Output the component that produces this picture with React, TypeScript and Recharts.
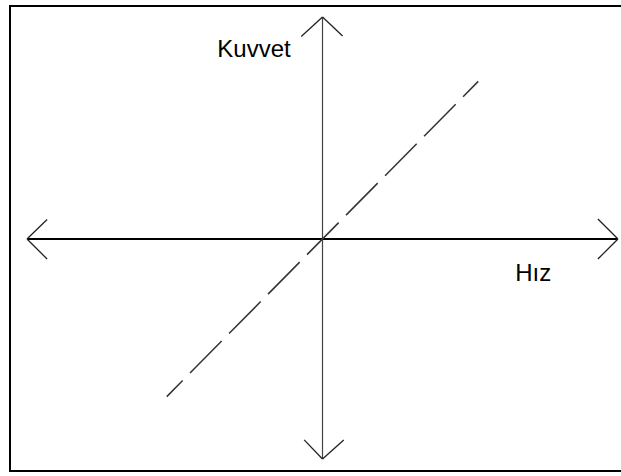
import React from 'react';
import { ComposedChart, XAxis, YAxis, Line, ReferenceLine, ReferenceDot } from 'recharts';

// Axis extents (data units)
const xAxisExtent = [-10, 10];
const yAxisExtent = [-9.91, 10];

// Arrowhead arms: [tip, armEnd] pairs
const arrowArms = [
  // left
  [{ x: -10, y: 0 }, { x: -9.32, y: 0.88 }],
  [{ x: -10, y: 0 }, { x: -9.32, y: -0.9 }],
  // right
  [{ x: 10, y: 0 }, { x: 9.32, y: 0.9 }],
  [{ x: 10, y: 0 }, { x: 9.32, y: -0.9 }],
  // top
  [{ x: 0, y: 10 }, { x: -0.72, y: 9.12 }],
  [{ x: 0, y: 10 }, { x: 0.68, y: 9.14 }],
  // bottom
  [{ x: 0, y: -9.91 }, { x: -0.62, y: -9.05 }],
  [{ x: 0, y: -9.91 }, { x: 0.72, y: -9.05 }],
];

// Dashed proportional line (force vs speed)
const forceLine = [
  { x: -5.27, y: -7.1 },
  { x: 5.27, y: 7.1 },
];

// Axis labels
const axisLabels = [
  { text: 'Kuvvet', x: -3.56, y: 8.2 },
  { text: 'Hız', x: 6.52, y: -1.89 },
];

export default function App() {
  return (
    <div style={{ position: 'absolute', left: 0, top: 0, width: 621, height: 476, overflow: 'hidden', background: '#fff' }}>
      <div
        style={{
          position: 'absolute',
          left: 9,
          top: 5,
          width: 620,
          height: 467,
          boxSizing: 'border-box',
          border: '2px solid #000',
        }}
      />
      <div style={{ position: 'absolute', left: 0, top: 0 }}>
        <ComposedChart
          width={621}
          height={476}
          margin={{ top: 17, right: 3, bottom: 15, left: 27 }}
        >
          <XAxis type="number" dataKey="x" domain={[-10, 10]} hide allowDataOverflow />
          <YAxis type="number" dataKey="y" domain={[-10, 10]} hide allowDataOverflow />
          <ReferenceLine
            segment={[{ x: xAxisExtent[0], y: 0 }, { x: xAxisExtent[1], y: 0 }]}
            stroke="#000"
            strokeWidth={2}
            ifOverflow="visible"
          />
          <ReferenceLine
            segment={[{ x: 0, y: yAxisExtent[0] }, { x: 0, y: yAxisExtent[1] }]}
            stroke="#444"
            strokeWidth={1.2}
            ifOverflow="visible"
          />
          {arrowArms.map((seg, i) => (
            <ReferenceLine
              key={i}
              segment={seg}
              stroke="#222"
              strokeWidth={1.3}
              ifOverflow="visible"
            />
          ))}
          <Line
            data={forceLine}
            dataKey="y"
            type="linear"
            stroke="#333"
            strokeWidth={1.5}
            strokeDasharray="45 10.5"
            strokeDashoffset={22.4}
            dot={false}
            activeDot={false}
            isAnimationActive={false}
          />
          {axisLabels.map((l) => (
            <ReferenceDot
              key={l.text}
              x={l.x}
              y={l.y}
              r={0}
              ifOverflow="visible"
              shape={(p: any) => (
                <text
                  x={p.cx}
                  y={p.cy}
                  fontFamily="'Liberation Sans', Arial, sans-serif"
                  fontSize={24}
                  fill="#000"
                >
                  {l.text}
                </text>
              )}
            />
          ))}
        </ComposedChart>
      </div>
    </div>
  );
}
